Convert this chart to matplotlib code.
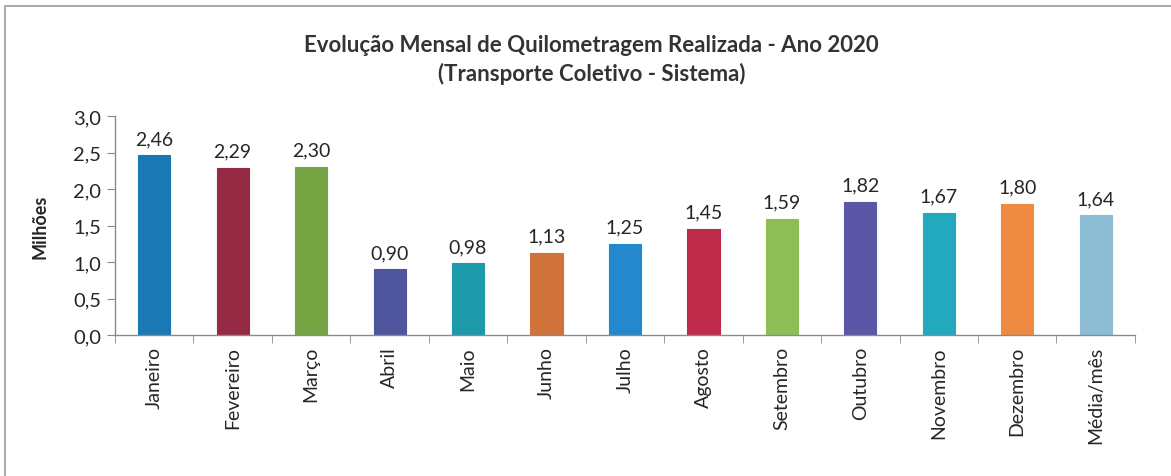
import matplotlib
matplotlib.use("Agg")
import matplotlib.pyplot as plt
from matplotlib.patches import Rectangle
import numpy as np

categories = ["Janeiro", "Fevereiro", "Março", "Abril", "Maio", "Junho", "Julho",
              "Agosto", "Setembro", "Outubro", "Novembro", "Dezembro", "Média/mês"]
values = [2.46, 2.29, 2.30, 0.90, 0.98, 1.13, 1.25, 1.45, 1.59, 1.82, 1.67, 1.80, 1.64]
value_labels = ["2,46", "2,29", "2,30", "0,90", "0,98", "1,13", "1,25",
                "1,45", "1,59", "1,82", "1,67", "1,80", "1,64"]
colors = ["#1a78b4", "#962a45", "#76a543", "#4f569e", "#1d9aaa", "#cf733a", "#2389cc",
          "#bd2a4a", "#8dbe55", "#5b57a6", "#22a9bd", "#ee8a42", "#8cbcd4"]
yticks = [0.0, 0.5, 1.0, 1.5, 2.0, 2.5, 3.0]
ytick_labels = ["0,0", "0,5", "1,0", "1,5", "2,0", "2,5", "3,0"]

plt.rcParams['font.family'] = ['Lato', 'DejaVu Sans']
text_color = "#262626"

fig = plt.figure(figsize=(11.71, 4.77), dpi=100)
fig.patch.set_facecolor("white")
fig.patches.append(Rectangle((0.004, -0.01), 1.2, 0.995, transform=fig.transFigure,
                             fill=False, edgecolor="#9a9a9a", linewidth=1.2))

ax = fig.add_axes([0.0982, 0.2956, 0.8710, 0.4591])
x = np.arange(len(categories))
ax.bar(x, values, width=0.41, color=colors, edgecolor=colors, linewidth=0.8)

for xi, v, lab in zip(x, values, value_labels):
    ax.annotate(lab, (xi, v), xytext=(0, 6), textcoords="offset points",
                ha="center", va="bottom", fontsize=14, color=text_color)

ax.set_xlim(-0.5, len(categories) - 0.5)
ax.set_ylim(0, 3.0)
ax.set_yticks(yticks)
ax.set_yticklabels(ytick_labels, fontsize=14.5, color=text_color)
ax.set_xticks(x)
ax.set_xticklabels(categories, rotation=90, fontsize=14, color=text_color)
ax.tick_params(axis="x", length=0, pad=8)
ax.set_xticks(np.arange(-0.5, len(categories), 1.0), minor=True)
ax.tick_params(axis="x", which="minor", length=6, color="#8a8a8a", direction="out")
ax.tick_params(axis="y", length=6, color="#8a8a8a", direction="out", pad=4)

for s in ["top", "right"]:
    ax.spines[s].set_visible(False)
for s in ["left", "bottom"]:
    ax.spines[s].set_color("#8a8a8a")
    ax.spines[s].set_linewidth(1.0)

ax.set_ylabel("Milhões", fontsize=13, fontweight="bold", color=text_color, labelpad=18)

fig.text(0.505, 0.905, "Evolução Mensal de Quilometragem Realizada - Ano 2020",
         ha="center", va="center", fontsize=16, fontweight="bold", color="#333333")
fig.text(0.505, 0.845, "(Transporte Coletivo - Sistema)",
         ha="center", va="center", fontsize=16, fontweight="bold", color="#333333")

fig.savefig("out.png", dpi=100)
